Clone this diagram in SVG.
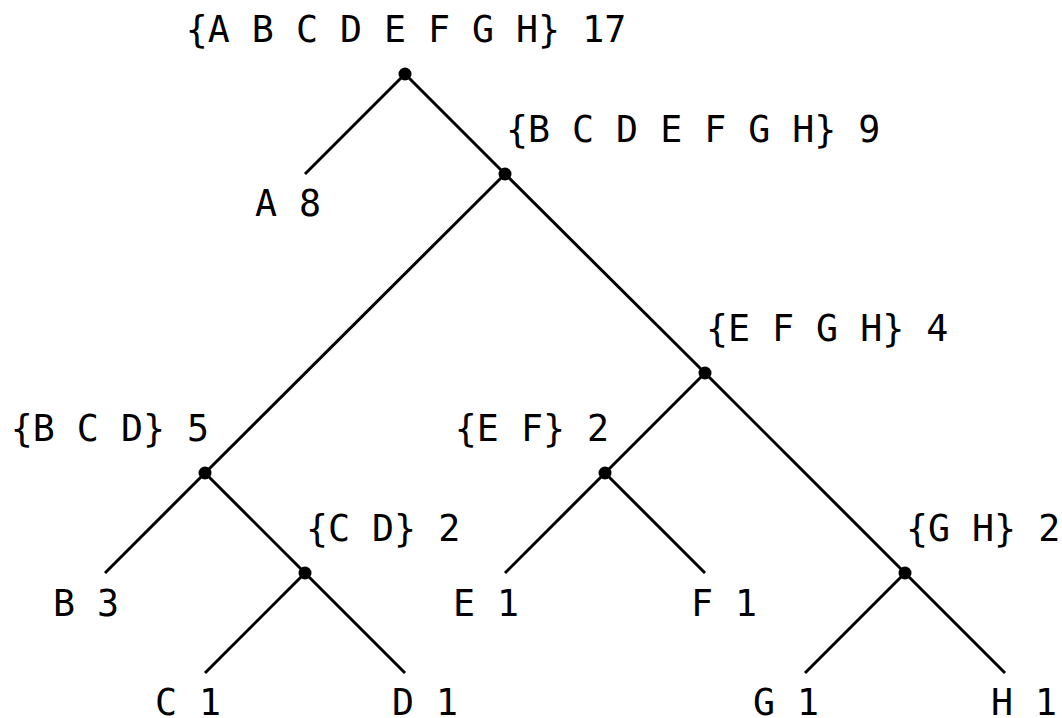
<svg xmlns="http://www.w3.org/2000/svg" width="1062" height="718" viewBox="0 0 1062 718">
<style>
text{font-family:"DejaVu Sans Mono","Liberation Mono",monospace;font-size:36.6px;fill:#000}
.e{stroke:#000;stroke-width:3;fill:none;stroke-linecap:butt}
.d{fill:#000}
.m{text-anchor:middle}.s{text-anchor:start}.n{text-anchor:end}
</style>
<rect width="1062" height="718" fill="#fff"/>
<g id="connectors">
<line class="e" x1="405" y1="74" x2="305" y2="174"/>
<line class="e" x1="405" y1="74" x2="505" y2="174"/>
<line class="e" x1="505" y1="174" x2="205" y2="473"/>
<line class="e" x1="505" y1="174" x2="705" y2="373"/>
<line class="e" x1="205" y1="473" x2="105" y2="573"/>
<line class="e" x1="205" y1="473" x2="305" y2="573"/>
<line class="e" x1="305" y1="573" x2="205" y2="673"/>
<line class="e" x1="305" y1="573" x2="405" y2="673"/>
<line class="e" x1="705" y1="373" x2="605" y2="473"/>
<line class="e" x1="705" y1="373" x2="905" y2="573"/>
<line class="e" x1="605" y1="473" x2="505" y2="573"/>
<line class="e" x1="605" y1="473" x2="705" y2="573"/>
<line class="e" x1="905" y1="573" x2="805" y2="673"/>
<line class="e" x1="905" y1="573" x2="1005" y2="673"/>
</g>
<g id="n-root"><circle class="d" cx="405" cy="74" r="6.5"/><text class="m" x="406" y="42">{A B C D E F G H} 17</text></g>
<g id="n-BCDEFGH"><circle class="d" cx="505" cy="174" r="6.5"/><text class="s" x="506" y="142">{B C D E F G H} 9</text></g>
<g id="n-EFGH"><circle class="d" cx="705" cy="373" r="6.5"/><text class="s" x="706" y="341">{E F G H} 4</text></g>
<g id="n-BCD"><circle class="d" cx="205" cy="473" r="6.5"/><text class="n" x="209" y="441">{B C D} 5</text></g>
<g id="n-EF"><circle class="d" cx="605" cy="473" r="6.5"/><text class="n" x="609" y="441">{E F} 2</text></g>
<g id="n-CD"><circle class="d" cx="305" cy="573" r="6.5"/><text class="s" x="306" y="541">{C D} 2</text></g>
<g id="n-GH"><circle class="d" cx="905" cy="573" r="6.5"/><text class="s" x="906" y="541">{G H} 2</text></g>
<g id="n-A"><text class="s" x="255" y="216">A 8</text></g>
<g id="n-B"><text class="s" x="53" y="616">B 3</text></g>
<g id="n-C"><text class="s" x="155" y="715">C 1</text></g>
<g id="n-D"><text class="s" x="392" y="715">D 1</text></g>
<g id="n-E"><text class="s" x="453" y="616">E 1</text></g>
<g id="n-F"><text class="s" x="691" y="616">F 1</text></g>
<g id="n-G"><text class="s" x="753" y="715">G 1</text></g>
<g id="n-H"><text class="s" x="991" y="715">H 1</text></g>
</svg>
